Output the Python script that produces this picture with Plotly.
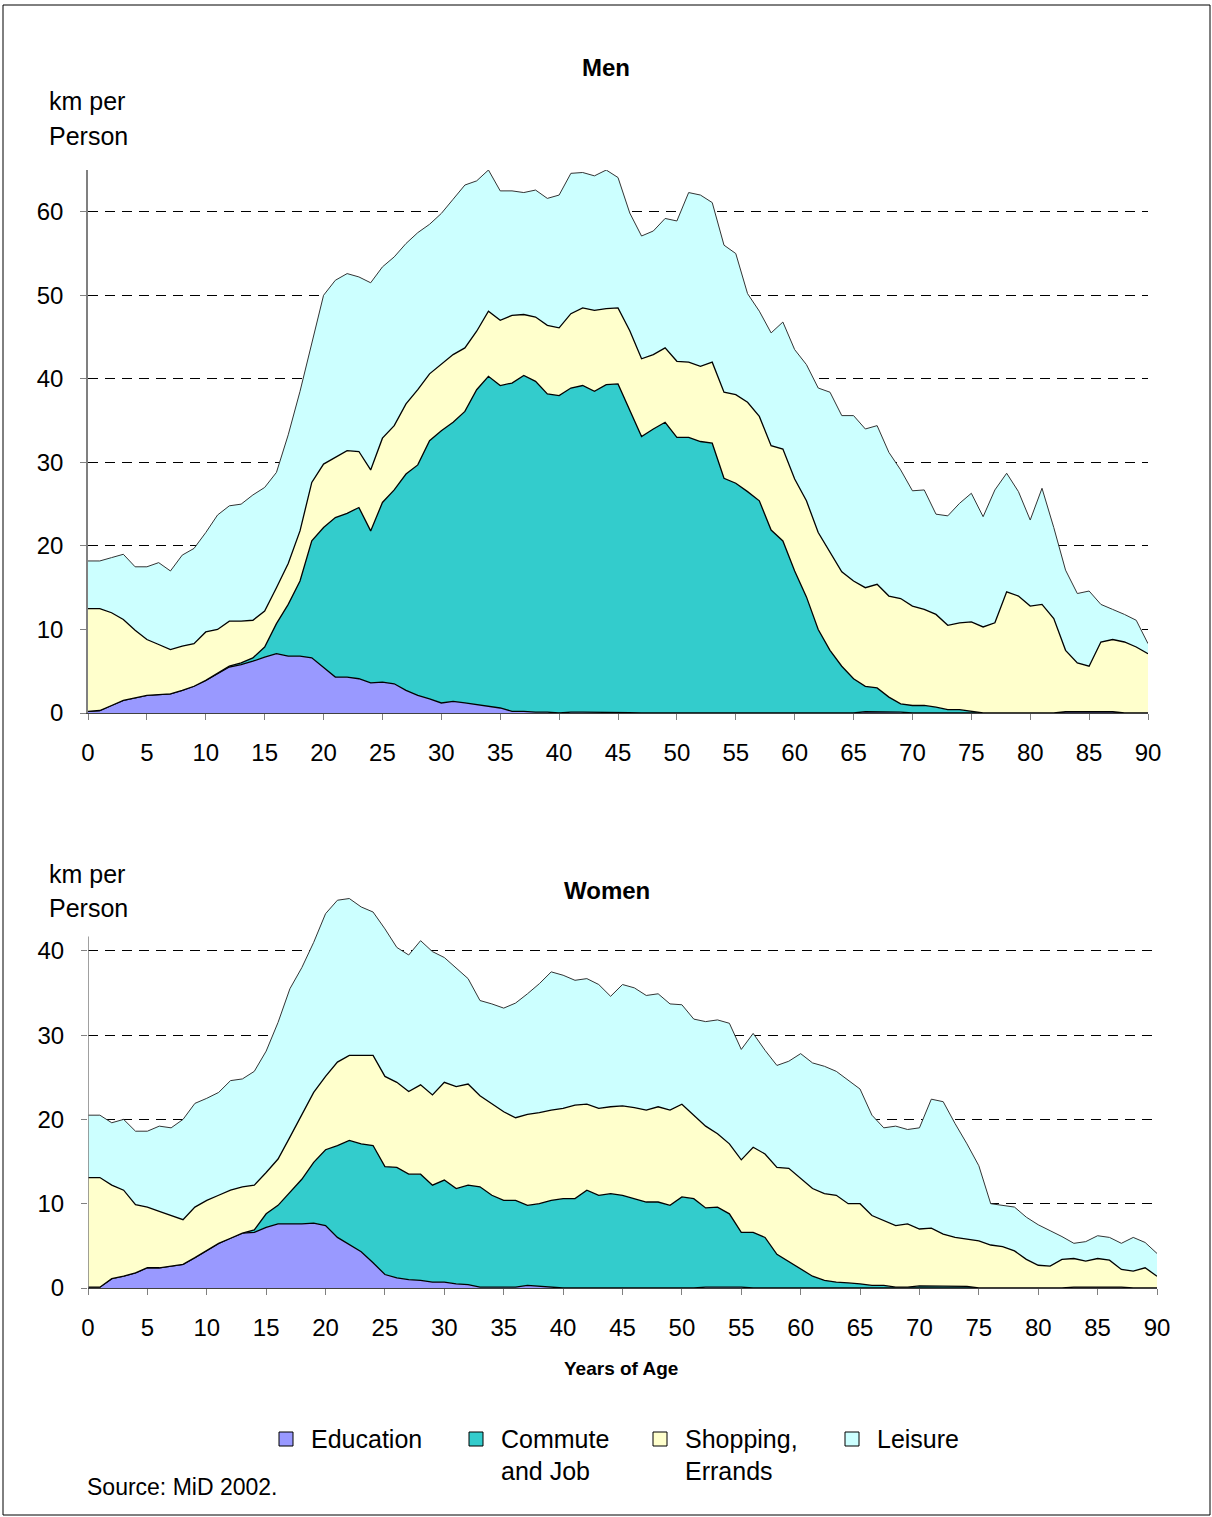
import plotly.graph_objects as go
from plotly.subplots import make_subplots

# ── Data (km per person by age, stacked by trip purpose) ──────────
ages = list(range(91))
purposes = ['Education', 'Commute and Job', 'Shopping, Errands', 'Leisure']
legend_lines = [['Education'], ['Commute', 'and Job'], ['Shopping,', 'Errands'], ['Leisure']]
colors = ['#9999FF', '#33CCCC', '#FFFFCC', '#CCFFFF']

men_education = [
    0.2, 0.3, 0.9, 1.5, 1.8, 2.1, 2.2, 2.3, 2.7, 3.2,
    3.9, 4.7, 5.5, 5.8, 6.2, 6.7, 7.1, 6.8, 6.8, 6.6,
    5.4, 4.3, 4.3, 4.1, 3.6, 3.7, 3.5, 2.7, 2.1, 1.7,
    1.2, 1.4, 1.2, 1.0, 0.8, 0.6, 0.2, 0.2, 0.1, 0.1,
    0.0, 0.1, 0.1, 0.1, 0.1, 0.1, 0.05, 0, 0, 0,
    0, 0, 0, 0, 0, 0, 0, 0, 0, 0,
    0, 0, 0, 0, 0, 0, 0.15, 0.15, 0.15, 0.1,
    0, 0, 0, 0, 0, 0, 0, 0, 0, 0,
    0, 0, 0, 0.15, 0.15, 0.15, 0.15, 0.15, 0, 0,
    0,
]
men_commute = [
    0, 0, 0, 0, 0, 0, 0, 0, 0, 0,
    0, 0, 0.1, 0.2, 0.4, 1.2, 3.6, 6.2, 9.0, 14.0,
    16.8, 19.1, 19.6, 20.5, 18.2, 21.5, 23.2, 25.9, 27.6, 30.9,
    32.6, 33.4, 34.9, 37.7, 39.5, 38.6, 39.3, 40.2, 39.6, 38.1,
    38.0, 38.8, 39.1, 38.4, 39.2, 39.3, 36.3, 33.1, 34.0, 34.8,
    33.0, 33.0, 32.5, 32.3, 28.1, 27.5, 26.5, 25.4, 21.9, 20.6,
    17.0, 13.9, 10.0, 7.5, 5.6, 4.1, 3.05, 2.85, 1.75, 1.0,
    0.9, 0.9, 0.7, 0.4, 0.4, 0.2, 0, 0, 0, 0,
    0, 0, 0, 0, 0, 0, 0, 0, 0, 0,
    0,
]
men_shopping = [
    12.3, 12.2, 11.1, 9.7, 8.1, 6.7, 6.0, 5.3, 5.3, 5.1,
    5.8, 5.3, 5.4, 5.0, 4.5, 4.3, 4.3, 4.9, 6.0, 7.0,
    7.6, 7.2, 7.5, 6.7, 7.3, 7.7, 7.7, 8.4, 9.0, 8.0,
    7.9, 8.1, 7.6, 7.0, 7.8, 7.8, 8.1, 7.3, 7.7, 8.2,
    8.1, 8.9, 9.3, 9.7, 9.1, 9.1, 9.4, 9.3, 8.9, 8.9,
    9.1, 9.0, 9.0, 9.7, 10.3, 10.6, 10.7, 10.1, 10.1, 11.0,
    11.0, 11.5, 11.6, 11.7, 11.3, 11.7, 11.8, 12.4, 12.1, 12.6,
    11.9, 11.5, 11.1, 10.1, 10.4, 10.7, 10.3, 10.8, 14.5, 14.0,
    12.8, 13.0, 11.3, 7.35, 5.85, 5.45, 8.35, 8.65, 8.5, 7.9,
    7.1,
]
men_leisure = [
    5.7, 5.7, 6.6, 7.8, 7.6, 8.7, 9.8, 9.4, 10.9, 11.4,
    11.9, 13.7, 13.8, 14.0, 15.0, 14.8, 13.8, 15.4, 16.7, 16.8,
    20.2, 21.2, 21.2, 20.9, 22.4, 20.5, 20.2, 19.2, 18.8, 17.9,
    18.1, 18.6, 19.5, 18.0, 16.9, 15.5, 14.9, 14.6, 15.2, 15.2,
    15.9, 16.8, 16.2, 16.1, 16.6, 15.6, 14.1, 14.7, 14.8, 15.5,
    16.8, 20.3, 20.5, 19.1, 17.6, 16.9, 13.0, 12.6, 13.5, 15.2,
    15.5, 16.3, 17.3, 19.2, 18.7, 19.8, 19.0, 19.0, 17.2, 15.4,
    13.8, 14.3, 12.0, 13.1, 14.3, 15.4, 13.2, 15.9, 14.2, 12.5,
    10.3, 13.9, 10.9, 9.6, 8.3, 9.0, 4.5, 3.6, 3.3, 3.2,
    1.2,
]

women_education = [
    0.1, 0.1, 1.1, 1.4, 1.8, 2.4, 2.4, 2.6, 2.8, 3.6,
    4.4, 5.3, 5.9, 6.5, 6.6, 7.2, 7.6, 7.6, 7.6, 7.7,
    7.4, 6.0, 5.1, 4.3, 3.0, 1.6, 1.2, 1.0, 0.9, 0.7,
    0.7, 0.5, 0.4, 0.1, 0.1, 0.1, 0.1, 0.3, 0.2, 0.1,
    0, 0, 0, 0, 0, 0, 0, 0, 0, 0,
    0, 0, 0.1, 0.1, 0.1, 0.1, 0, 0, 0, 0,
    0, 0, 0, 0, 0, 0, 0, 0, 0, 0,
    0, 0, 0, 0, 0, 0, 0, 0, 0, 0,
    0, 0, 0, 0.1, 0.1, 0.1, 0.1, 0.1, 0, 0,
    0,
]
women_commute = [
    0, 0, 0, 0, 0, 0, 0, 0, 0, 0,
    0, 0, 0, 0.0, 0.3, 1.6, 2.2, 3.8, 5.3, 7.2,
    9.0, 10.9, 12.4, 12.8, 13.9, 12.8, 13.1, 12.5, 12.6, 11.5,
    12.1, 11.3, 11.8, 11.9, 10.9, 10.3, 10.3, 9.5, 9.8, 10.3,
    10.6, 10.6, 11.6, 11.0, 11.2, 11.0, 10.6, 10.2, 10.2, 9.8,
    10.8, 10.6, 9.4, 9.5, 8.7, 6.5, 6.6, 6.0, 4.0, 3.1,
    2.2, 1.4, 0.9, 0.7, 0.6, 0.5, 0.3, 0.3, 0.1, 0.1,
    0.25, 0.25, 0.25, 0.25, 0.2, 0, 0, 0, 0, 0,
    0, 0, 0, 0, 0, 0, 0, 0, 0, 0,
    0,
]
women_shopping = [
    13.0, 13.0, 11.1, 10.2, 8.1, 7.2, 6.7, 6.0, 5.3, 6.0,
    6.0, 5.7, 5.7, 5.5, 5.3, 4.9, 5.5, 6.5, 7.6, 8.3,
    8.7, 9.9, 10.1, 10.5, 10.7, 10.7, 10.1, 9.8, 10.6, 10.7,
    11.6, 12.1, 12.0, 10.8, 10.9, 10.5, 9.8, 10.8, 10.8, 10.7,
    10.7, 11.1, 10.2, 10.3, 10.3, 10.6, 10.8, 10.9, 11.3, 11.3,
    11.0, 9.9, 9.7, 8.7, 8.3, 8.6, 10.1, 9.9, 10.3, 11.1,
    10.8, 10.4, 10.3, 10.3, 9.4, 9.5, 8.3, 7.7, 7.3, 7.5,
    6.75, 6.85, 6.15, 5.75, 5.6, 5.6, 5.1, 4.9, 4.4, 3.4,
    2.7, 2.6, 3.4, 3.4, 3.1, 3.4, 3.2, 2.1, 2.0, 2.4,
    1.4,
]
women_leisure = [
    7.4, 7.4, 7.4, 8.4, 8.7, 9.0, 10.1, 10.4, 11.9, 12.3,
    12.1, 12.2, 13.0, 12.8, 13.5, 14.4, 16.2, 17.6, 17.5, 17.8,
    19.3, 19.2, 18.6, 17.6, 17.0, 17.5, 16.0, 16.2, 17.1, 17.0,
    14.8, 14.1, 12.5, 11.3, 11.8, 12.3, 13.6, 14.3, 15.3, 16.4,
    15.8, 14.8, 14.9, 14.7, 13.1, 14.4, 14.2, 13.6, 13.4, 12.6,
    11.8, 11.4, 12.4, 13.5, 14.3, 13.1, 13.5, 12.3, 12.1, 12.7,
    14.8, 14.9, 15.1, 14.7, 14.7, 13.6, 11.9, 11.0, 11.8, 11.2,
    12.0, 15.3, 15.7, 13.5, 11.3, 8.9, 4.9, 4.9, 5.2, 5.0,
    4.8, 4.2, 2.7, 1.8, 2.3, 2.7, 2.7, 3.1, 4.0, 3.0,
    2.7,
]

men_ticks = [0, 10, 20, 30, 40, 50, 60]
women_ticks = [0, 10, 20, 30, 40]
age_ticks = list(range(0, 91, 5))

# ── Page geometry (pixels) ────────────────────────────────────────
W, H = 1212, 1517
L, R, T, B = 88, 1157, 170, 1288
FONT = 'Liberation Sans, Arial, sans-serif'


def px(x):
    return (x - L) / (R - L)


def py(y):
    return (B - y) / (B - T)


fig = make_subplots(rows=2, cols=1, vertical_spacing=0.05)

men_series = [men_education, men_commute, men_shopping, men_leisure]
women_series = [women_education, women_commute, women_shopping, women_leisure]
for row, group, series in [(1, 'men', men_series), (2, 'women', women_series)]:
    for i, (name, vals) in enumerate(zip(purposes, series)):
        fig.add_trace(go.Scatter(
            x=ages, y=vals, name=name, stackgroup=group,
            mode='lines', fillcolor=colors[i],
            line=dict(color='#000000' if i < 3 else '#333333',
                      width=1.3 if i < 3 else 1),
            showlegend=False, hoverinfo='skip',
        ), row=row, col=1)

axis_common = dict(
    ticks='outside', ticklen=6, tickcolor='#808080',
    tickfont=dict(family=FONT, size=24, color='#000000'),
    ticklabelstandoff=12,
)
fig.update_layout(
    xaxis=dict(domain=[0, px(1148)], range=[0, 90], tickvals=age_ticks,
               showgrid=False, zeroline=False, showline=True,
               linecolor='#404040', linewidth=1, **axis_common),
    yaxis=dict(domain=[py(713), 1], range=[0, 65], tickvals=men_ticks,
               showgrid=True, gridcolor='#000000', griddash='10px,7px',
               gridwidth=1, zeroline=False, showline=True,
               linecolor='#808080', linewidth=1.5, **axis_common),
    xaxis2=dict(domain=[0, 1], range=[0, 90], tickvals=age_ticks,
                showgrid=False, zeroline=False, showline=True,
                linecolor='#404040', linewidth=1, **axis_common),
    yaxis2=dict(domain=[0, py(896)], range=[0, 46.5], tickvals=women_ticks,
                showgrid=True, gridcolor='#000000', griddash='10px,7px',
                gridwidth=1, zeroline=False, showline=False,
                **axis_common),
)


def text(s, x, y, size, bold=False, anchor='left'):
    fig.add_annotation(
        text=f'<b>{s}</b>' if bold else s, x=px(x), y=py(y),
        xref='paper', yref='paper', xanchor=anchor, yanchor='middle',
        showarrow=False, font=dict(family=FONT, size=size, color='#000000'),
    )


text('Men', 606, 67, 24, bold=True, anchor='center')
text('km per', 47, 101, 25)
text('Person', 47, 136, 25)
text('Women', 607, 890, 24, bold=True, anchor='center')
text('km per', 47, 874, 25)
text('Person', 47, 908, 25)
text('Years of Age', 621, 1368, 19, bold=True, anchor='center')
text('Source: MiD 2002.', 85, 1487, 23)

# women y axis line stops near 41.7
fig.add_shape(type='line', xref='x2', yref='y2', x0=0, x1=0, y0=0, y1=41.7,
              line=dict(color='#808080', width=1.5))

# legend built by hand
legend_x = [286, 476, 660, 852]
for i, xc in enumerate(legend_x):
    fig.add_shape(type='rect', xref='paper', yref='paper',
                  x0=px(xc - 7), x1=px(xc + 7), y0=py(1446), y1=py(1432),
                  fillcolor=colors[i], line=dict(color='#000000', width=1))
    for j, line_txt in enumerate(legend_lines[i]):
        text(line_txt, xc + 23, 1439 + 32 * j, 25)

# page frame
fig.add_shape(type='rect', xref='paper', yref='paper',
              x0=px(3), x1=px(1210), y0=py(1515), y1=py(5),
              line=dict(color='#000000', width=1))

fig.update_layout(
    width=W, height=H,
    margin=dict(l=L, r=W - R, t=T, b=H - B),
    paper_bgcolor='#FFFFFF', plot_bgcolor='#FFFFFF',
    font=dict(family=FONT, color='#000000'),
    showlegend=False,
)

# drop the browser's default body margin so the figure sits at (0, 0)
fig.write_html('out.html',
               config={'displayModeBar': False},
               post_script="document.body.style.margin='0px';")
